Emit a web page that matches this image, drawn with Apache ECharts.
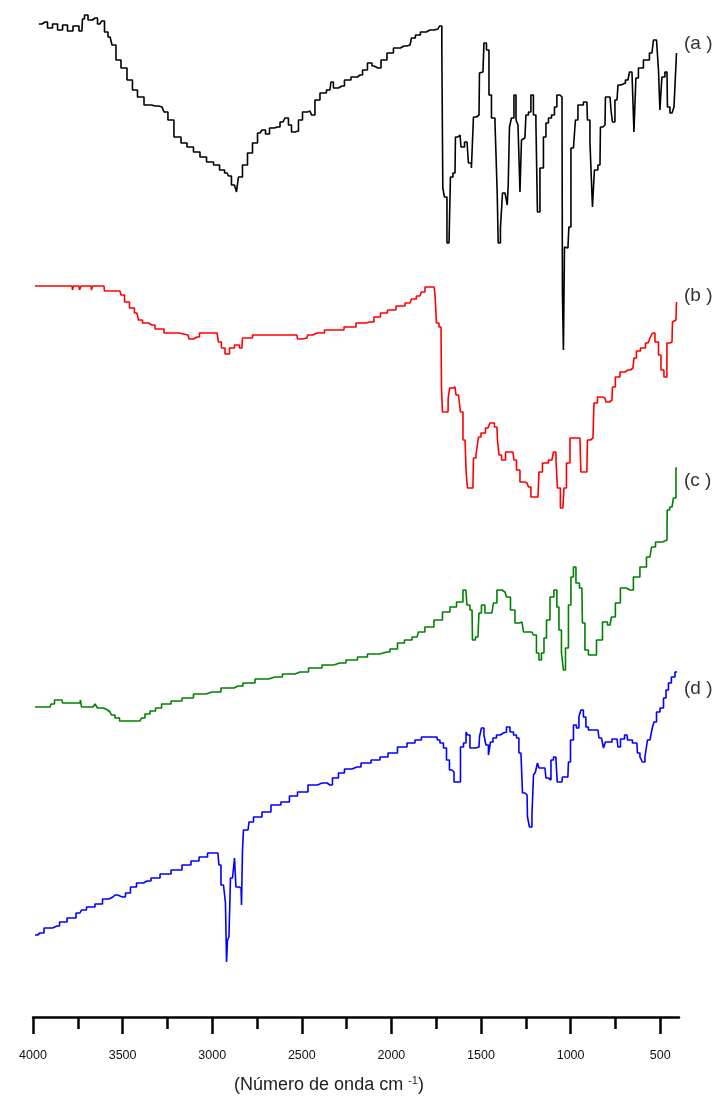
<!DOCTYPE html>
<html>
<head>
<meta charset="utf-8">
<script src="https://cdn.jsdelivr.net/npm/echarts@6/dist/echarts.min.js"></script>
<style>
  html, body { margin: 0; padding: 0; background: #ffffff; }
  #chart { width: 723px; height: 1104px; }
</style>
</head>
<body>
<div id="chart"></div>
<script>
// FTIR spectra, stacked with vertical offsets: [wavenumber cm-1, transmittance (offset units)]
const majorTicks = [4000, 3500, 3000, 2500, 2000, 1500, 1000, 500];
const minorTicks = [3750, 3250, 2750, 2250, 1750, 1250, 750];
const curveLabels = ['(a )', '(b )', '(c )', '(d )'];
const curveColors = ['#000000', '#ff0000', '#008000', '#0000ff'];
const axisTitle = '(Número de onda cm';
const axisTitleSup = '-1';

const spectrumA = [
  [3967,99.1],[3933,99.3],[3905,98.7],[3877,99.1],[3849,98.5],[3821,99.0],[3794,98.4],[3760,98.9],
  [3727,98.4],[3721,99.6],[3704,100.0],[3682,99.5],[3654,99.7],[3626,99.1],[3609,99.4],[3593,98.3],
  [3570,97.8],[3548,97.0],[3526,95.5],[3492,94.7],[3459,93.5],[3431,92.5],[3403,91.8],[3358,91.0],
  [3319,90.9],[3280,90.8],[3258,90.3],[3236,89.5],[3191,87.8],[3157,87.2],[3124,86.8],[3085,86.3],
  [3051,85.8],[3012,85.3],[2973,85.0],[2945,84.5],[2917,84.2],[2901,83.9],[2884,83.0],[2867,83.2],
  [2862,82.3],[2845,83.8],[2817,85.0],[2789,86.2],[2761,87.2],[2733,88.2],[2711,88.5],[2694,88.1],
  [2666,88.7],[2638,88.8],[2605,89.3],[2583,89.7],[2566,89.0],[2549,88.3],[2527,88.4],[2510,89.5],
  [2482,90.3],[2454,90.4],[2438,90.0],[2415,91.5],[2382,92.2],[2343,92.5],[2332,93.3],[2315,92.7],
  [2276,92.9],[2248,93.5],[2203,93.8],[2175,94.0],[2147,94.5],[2120,95.2],[2097,94.9],[2075,94.7],
  [2041,95.5],[2008,96.2],[1969,96.7],[1930,96.9],[1896,97.0],[1880,97.7],[1852,98.0],[1824,98.3],
  [1785,98.5],[1740,98.6],[1723,98.9],[1714,96.5],[1712,82.7],[1696,81.8],[1684,77.2],[1673,77.2],
  [1668,83.8],[1645,84.2],[1640,87.8],[1617,88.0],[1606,86.8],[1578,87.3],[1562,85.2],[1545,84.7],
  [1539,89.8],[1511,90.0],[1506,94.2],[1489,94.3],[1478,97.2],[1461,96.5],[1450,92.0],[1433,89.7],
  [1411,89.3],[1408,82.2],[1400,77.2],[1383,78.7],[1377,82.2],[1355,82.3],[1352,81.0],[1344,83.0],
  [1338,88.8],[1322,89.7],[1310,92.0],[1299,89.5],[1288,89.0],[1277,82.3],[1271,87.5],[1255,87.7],
  [1243,90.0],[1227,90.3],[1216,92.0],[1199,90.0],[1188,89.2],[1182,80.3],[1160,84.7],[1143,87.8],
  [1132,89.2],[1115,89.7],[1098,90.0],[1082,90.8],[1071,92.0],[1048,91.8],[1043,72.2],[1037,66.5],
  [1031,76.8],[1015,76.7],[1004,78.8],[992,86.7],[976,86.8],[970,89.5],[948,91.0],[909,91.3],
  [903,89.5],[881,87.3],[875,80.8],[859,84.5],[836,85.0],[831,88.8],[808,89.0],[803,91.8],
  [780,91.8],[769,90.5],[764,89.3],[741,91.5],[730,93.0],[708,93.2],[680,93.5],[663,94.3],
  [652,94.3],[641,88.3],[630,93.7],[613,94.7],[574,95.5],[546,96.2],[529,97.5],[512,97.7],
  [507,94.5],[496,90.5],[485,93.8],[462,94.3],[457,90.8],[434,90.2],[412,90.8],[406,96.2]
];

const spectrumB = [
  [3989,72.9],[3782,72.9],[3777,72.5],[3771,72.9],[3743,72.9],[3738,72.5],[3727,72.9],[3676,72.9],
  [3671,72.5],[3665,72.9],[3604,72.9],[3598,72.4],[3587,72.4],[3515,72.4],[3503,72.0],[3475,71.3],
  [3448,70.7],[3420,70.2],[3403,69.5],[3375,69.2],[3336,69.0],[3302,68.6],[3236,68.2],[3135,68.0],
  [3124,67.6],[3085,67.8],[3057,68.2],[2973,68.2],[2957,67.3],[2940,66.7],[2917,66.1],[2890,66.7],
  [2862,67.0],[2834,66.7],[2828,67.7],[2722,68.0],[2527,68.0],[2521,67.6],[2471,67.7],[2465,68.0],
  [2415,68.2],[2332,68.5],[2298,68.5],[2231,68.8],[2164,69.2],[2120,69.3],[2075,69.8],[2047,70.2],
  [1997,70.5],[1952,70.9],[1896,71.2],[1880,71.6],[1841,71.9],[1824,72.3],[1801,72.8],[1762,72.8],
  [1751,72.0],[1746,69.2],[1723,68.8],[1718,62.7],[1712,60.3],[1684,60.3],[1682,61.7],[1668,62.7],
  [1645,62.8],[1634,62.0],[1617,61.8],[1612,60.3],[1589,57.5],[1578,54.5],[1573,52.7],[1545,52.7],
  [1539,55.7],[1517,56.0],[1511,57.8],[1489,58.2],[1461,58.7],[1439,59.2],[1411,58.8],[1405,57.5],
  [1394,56.0],[1377,55.5],[1349,56.3],[1322,56.3],[1310,55.5],[1294,54.5],[1271,53.3],[1243,53.2],
  [1227,52.8],[1216,51.8],[1182,51.8],[1171,54.3],[1143,55.2],[1104,55.5],[1087,56.3],[1076,55.5],
  [1071,52.7],[1043,50.7],[1031,52.7],[1015,55.2],[992,57.7],[948,57.7],[937,54.3],[909,54.3],
  [903,57.5],[875,57.7],[864,61.2],[836,61.8],[808,61.7],[797,61.3],[769,61.5],[764,62.8],
  [736,63.8],[713,64.3],[680,64.5],[652,64.7],[641,65.7],[624,66.4],[596,66.7],[568,67.2],
  [546,67.7],[540,68.2],[518,67.3],[501,66.0],[490,64.5],[468,63.8],[457,67.2],[434,67.3],
  [429,69.3],[412,69.5],[406,71.3]
];

const spectrumC = [
  [3989,30.8],[3905,30.8],[3894,31.1],[3866,31.5],[3838,31.5],[3833,31.2],[3738,31.2],[3732,31.5],
  [3727,30.8],[3665,30.8],[3643,31.1],[3637,30.7],[3615,30.7],[3598,30.5],[3570,30.3],[3554,30.0],
  [3531,29.7],[3503,29.4],[3403,29.4],[3386,29.7],[3364,30.1],[3330,30.4],[3302,30.7],[3263,31.1],
  [3196,31.4],[3141,31.7],[3068,32.1],[3001,32.3],[2901,32.7],[2856,32.9],[2800,33.2],[2722,33.6],
  [2650,33.8],[2566,34.1],[2510,34.3],[2415,34.7],[2359,35.0],[2287,35.2],[2220,35.5],[2159,35.8],
  [2108,36.1],[2025,36.3],[1991,36.6],[1941,37.2],[1913,37.5],[1857,37.8],[1841,38.3],[1785,38.8],
  [1740,39.5],[1690,40.3],[1656,40.8],[1617,41.3],[1584,42.5],[1573,41.0],[1550,40.5],[1545,37.5],
  [1517,37.8],[1506,40.2],[1489,41.0],[1467,40.2],[1439,40.2],[1422,41.2],[1400,42.5],[1366,42.3],
  [1349,41.8],[1322,40.5],[1299,39.2],[1271,39.3],[1255,38.3],[1216,38.3],[1199,38.0],[1182,36.2],
  [1171,35.5],[1154,36.2],[1143,37.7],[1126,39.5],[1104,41.8],[1082,42.5],[1071,40.8],[1059,38.5],
  [1043,36.2],[1037,34.5],[1020,36.7],[1004,41.0],[992,43.8],[976,44.8],[964,43.2],[937,42.7],
  [931,39.2],[909,36.5],[892,36.0],[875,36.0],[836,37.5],[808,39.3],[780,39.0],[764,39.8],
  [736,41.2],[708,42.7],[669,42.5],[630,43.8],[596,44.8],[557,45.8],[540,46.8],[512,47.3],
  [462,47.5],[460,50.5],[434,50.8],[418,51.7],[406,54.7]
];

const spectrumD = [
  [3989,8.0],[3961,8.2],[3916,8.7],[3866,8.9],[3838,9.3],[3782,9.7],[3738,10.2],[3721,10.5],
  [3682,10.8],[3626,11.1],[3598,11.6],[3554,11.8],[3542,12.0],[3515,11.9],[3498,11.8],[3470,12.2],
  [3442,12.8],[3403,13.2],[3364,13.4],[3319,13.7],[3263,14.1],[3196,14.5],[3141,15.0],[3096,15.4],
  [3051,15.8],[3001,16.2],[2968,16.2],[2957,15.0],[2945,13.0],[2929,13.0],[2923,11.2],[2917,5.3],
  [2912,7.5],[2901,7.8],[2895,13.7],[2878,13.8],[2873,15.7],[2862,12.8],[2839,12.7],[2834,11.0],
  [2828,16.5],[2823,18.5],[2800,18.5],[2789,19.3],[2750,19.8],[2694,20.3],[2650,21.0],[2583,21.3],
  [2555,21.9],[2493,22.3],[2438,23.0],[2387,23.2],[2359,23.2],[2343,23.0],[2315,23.7],[2276,24.2],
  [2248,24.6],[2192,24.8],[2147,25.2],[2080,25.5],[2047,25.8],[1991,26.2],[1941,26.8],[1885,27.2],
  [1852,27.5],[1813,27.8],[1746,27.8],[1740,27.5],[1718,27.2],[1701,26.7],[1684,25.5],[1668,24.5],
  [1656,24.3],[1645,23.3],[1623,23.3],[1606,26.8],[1589,27.2],[1578,28.3],[1573,28.0],[1550,26.7],
  [1511,26.8],[1506,27.8],[1489,28.7],[1478,28.0],[1467,27.0],[1450,26.0],[1444,27.3],[1422,27.7],
  [1405,28.0],[1383,28.2],[1366,28.3],[1349,28.8],[1327,28.3],[1310,28.0],[1294,27.7],[1283,26.2],
  [1271,26.0],[1266,22.2],[1243,22.0],[1238,19.8],[1221,18.8],[1210,20.0],[1204,24.0],[1188,24.3],
  [1182,25.2],[1171,24.7],[1143,24.7],[1132,23.7],[1115,23.5],[1104,25.5],[1087,25.8],[1076,25.5],
  [1073,23.3],[1048,23.3],[1043,23.8],[1015,23.8],[1009,25.3],[992,27.5],[976,29.0],[959,28.7],
  [948,29.8],[937,30.5],[920,29.8],[909,28.8],[892,28.5],[847,28.5],[836,27.7],[819,27.5],
  [814,26.7],[797,27.3],[741,27.6],[730,26.8],[713,27.6],[685,28.0],[680,27.5],[630,27.2],
  [624,26.2],[602,25.8],[596,25.3],[574,25.8],[568,27.5],[546,27.7],[540,28.8],[529,29.3],
  [512,30.3],[490,30.7],[473,31.7],[462,32.5],[446,33.2],[429,33.8],[406,34.3]
];

const spectra = [spectrumA, spectrumB, spectrumC, spectrumD];
// tag placement for each curve (pixel box of the text, right of the plot)
const labelTops = [34, 286, 471, 679];

const chart = echarts.init(document.getElementById('chart'), null, { renderer: 'canvas' });

const gridBox = { left: 33, right: 44, top: 5, bottom: 87 };
const xRange = { min: 395, max: 4000 };
const fontFamily = '"Liberation Sans", Arial, sans-serif';

const option = {
  backgroundColor: '#ffffff',
  animation: false,
  grid: [
    Object.assign({}, gridBox),
    Object.assign({}, gridBox)
  ],
  xAxis: [
    {
      type: 'value', gridIndex: 0, position: 'bottom', inverse: true,
      min: xRange.min, max: xRange.max,
      axisLine: { show: true, onZero: false, lineStyle: { color: '#000', width: 2.5 } },
      axisTick: { show: true, customValues: majorTicks, length: 17, lineStyle: { color: '#000', width: 2.5 } },
      axisLabel: {
        show: true, customValues: majorTicks, margin: 32,
        formatter: (v) => String(v),
        color: '#111', fontSize: 12.5, fontFamily: fontFamily
      },
      splitLine: { show: false }
    },
    {
      type: 'value', gridIndex: 1, position: 'bottom', inverse: true,
      min: xRange.min, max: xRange.max,
      axisLine: { show: false, onZero: false },
      axisTick: { show: true, customValues: minorTicks, length: 12, lineStyle: { color: '#000', width: 2.5 } },
      axisLabel: { show: false },
      splitLine: { show: false }
    }
  ],
  yAxis: [
    { type: 'value', gridIndex: 0, min: -0.2, max: 101, show: false, splitLine: { show: false } },
    { type: 'value', gridIndex: 1, min: -0.2, max: 101, show: false, splitLine: { show: false } }
  ],
  series: spectra.map((data, i) => ({
    name: curveLabels[i],
    type: 'line',
    xAxisIndex: 0,
    yAxisIndex: 0,
    data: data,
    step: 'middle',
    showSymbol: false,
    clip: false,
    lineStyle: { color: curveColors[i], width: 1.6 },
    itemStyle: { color: curveColors[i] },
    emphasis: { disabled: true }
  })),
  graphic: curveLabels.map((txt, i) => ({
    type: 'text',
    left: 684,
    top: labelTops[i],
    style: { text: txt, fill: '#333', font: '19px ' + fontFamily }
  })).concat([
    {
      type: 'text',
      x: 329,
      y: 1075,
      style: {
        text: axisTitle + ' {sup|' + axisTitleSup + '})',
        align: 'center',
        fill: '#222',
        font: '18px ' + fontFamily,
        rich: {
          sup: { fontSize: 11, fill: '#222', padding: [0, 0, 10, 0], fontFamily: fontFamily }
        }
      }
    }
  ])
};

chart.setOption(option);
</script>
</body>
</html>
